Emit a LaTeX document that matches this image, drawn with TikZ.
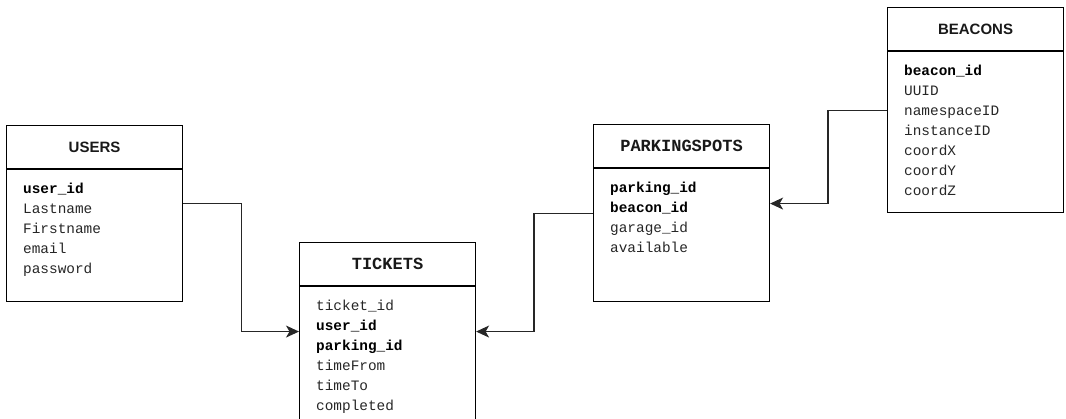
\documentclass[tikz,border=0pt]{standalone}
\usepackage{fontspec}
\setmainfont{Liberation Sans}
\setsansfont{Liberation Sans}
\setmonofont{Liberation Mono}
\usetikzlibrary{arrows.meta}
\tikzset{
  entity/.style={draw=black, line width=1.1pt, minimum width=176pt, inner sep=0pt, anchor=north west},
  etitle/.style={font=\bfseries\fontsize{15}{17}\selectfont, text=black!90},
  field/.style={anchor=west, inner sep=0pt, text height=10pt, text depth=3pt,
    font=\ttfamily\fontsize{14.4}{16}\selectfont, text=black!85},
  fk/.style={draw=black!85, line width=1.1pt, -{Stealth[length=13pt,width=12pt,inset=3.5pt]}},
}
\newcommand{\Key}[1]{\textbf{\color{black}#1}}
\newcommand{\Entity}[5]{%
  \node[entity, minimum height=#4pt] (#1) at (#2,#3) {};
  \draw[line width=1.1pt] ([yshift=-44pt]#1.north west) -- ([yshift=-44pt]#1.north east);
  \node[etitle] (#1-title) at ([yshift=-22pt]#1.north) {#5};
}
\newcommand{\Field}[4]{%
  \node[field] (#2-#1) at ([xshift=17pt,yshift=-45pt-20pt*#3]#2.north west) {#4};
}
\begin{document}
\begin{tikzpicture}[x=1pt,y=-1pt]
  \useasboundingbox (0,0) rectangle (1066,418);
  \clip (0,0) rectangle (1066,418);

  % tables
  \Entity{users}{6}{125}{176}{USERS}
  \Field{uid}{users}{1}{\Key{user\_id}}
  \Field{last}{users}{2}{Lastname}
  \Field{first}{users}{3}{Firstname}
  \Field{email}{users}{4}{email}
  \Field{pwd}{users}{5}{password}

  \Entity{tickets}{299}{242}{178}{\ttfamily\fontsize{17}{19}\selectfont TICKETS}
  \Field{tid}{tickets}{1}{ticket\_id}
  \Field{uid}{tickets}{2}{\Key{user\_id}}
  \Field{pid}{tickets}{3}{\Key{parking\_id}}
  \Field{from}{tickets}{4}{timeFrom}
  \Field{to}{tickets}{5}{timeTo}
  \Field{done}{tickets}{6}{completed}

  \Entity{spots}{593}{124}{177}{\ttfamily\fontsize{17}{19}\selectfont PARKINGSPOTS}
  \Field{pid}{spots}{1}{\Key{parking\_id}}
  \Field{bid}{spots}{2}{\Key{beacon\_id}}
  \Field{gid}{spots}{3}{garage\_id}
  \Field{avail}{spots}{4}{available}

  \Entity{beacons}{887}{7}{205}{BEACONS}
  \Field{bid}{beacons}{1}{\Key{beacon\_id}}
  \Field{uuid}{beacons}{2}{UUID}
  \Field{ns}{beacons}{3}{namespaceID}
  \Field{inst}{beacons}{4}{instanceID}
  \Field{cx}{beacons}{5}{coordX}
  \Field{cy}{beacons}{6}{coordY}
  \Field{cz}{beacons}{7}{coordZ}

  % foreign keys
  \draw[fk] ([yshift=10.5pt]users.east) -- ++(58.5,0) |- (tickets.west);
  \draw[fk] (spots.west) -- ++(-59,0) |- (tickets.east);
  \draw[fk] (beacons.west) -- ++(-59,0) |- ([yshift=9.5pt]spots.east);
\end{tikzpicture}
\end{document}
